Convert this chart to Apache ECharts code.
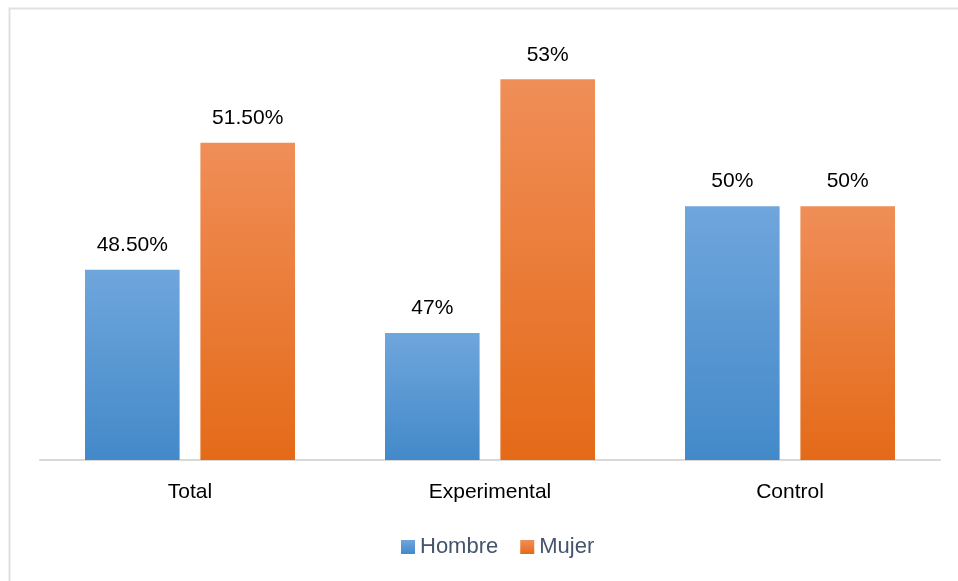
<!DOCTYPE html>
<html>
<head>
<meta charset="utf-8">
<script src="https://cdn.jsdelivr.net/npm/echarts@6/dist/echarts.min.js"></script>
<style>html,body{margin:0;padding:0;background:#fff;}#c{width:958px;height:581px;}</style>
</head>
<body>
<div id="c"></div>
<script>
var categories = ['Total', 'Experimental', 'Control'];
var seriesNames = ['Hombre', 'Mujer'];
var hombre = [48.5, 47, 50];
var mujer = [51.5, 53, 50];
var hombreLabels = ['48.50%', '47%', '50%'];
var mujerLabels = ['51.50%', '53%', '50%'];

var chart = echarts.init(document.getElementById('c'), null, {renderer: 'canvas'});
var font = '"Liberation Sans", Arial, sans-serif';
function grad(top, bottom) {
  return new echarts.graphic.LinearGradient(0, 0, 0, 1, [
    {offset: 0, color: top}, {offset: 1, color: bottom}
  ]);
}
function mkLabel(labels) {
  return {
    show: true, position: 'top', distance: 14,
    fontFamily: font, fontSize: 21, color: '#000',
    formatter: function (p) { return labels[p.dataIndex]; }
  };
}
chart.setOption({
  animation: false,
  backgroundColor: '#fff',
  graphic: [{
    type: 'polyline', silent: true,
    shape: {points: [[9.5, 581], [9.5, 8.5], [958, 8.5]]},
    style: {stroke: '#dde1e6', lineWidth: 2, fill: null}
  }],
  grid: {left: 40, right: 18, top: 37, bottom: 121},
  legend: {
    data: seriesNames, bottom: 18, left: 396,
    itemWidth: 14, itemHeight: 14, itemGap: 22,
    icon: 'rect',
    textStyle: {fontFamily: font, fontSize: 22, color: '#44546a'}
  },
  xAxis: {
    type: 'category', data: categories,
    axisLine: {lineStyle: {color: '#d9d9d9', width: 2}},
    axisTick: {show: false},
    axisLabel: {fontFamily: font, fontSize: 21, color: '#000', margin: 22}
  },
  yAxis: {
    type: 'value', min: 44, max: 54, interval: 2,
    show: false, splitLine: {show: false}
  },
  series: [
    {name: 'Hombre', type: 'bar', data: hombre, barCategoryGap: '30%', barGap: '22%',
     itemStyle: {color: grad('#6fa6dc', '#4389c9')}, label: mkLabel(hombreLabels)},
    {name: 'Mujer', type: 'bar', data: mujer,
     itemStyle: {color: grad('#f08e58', '#e46a18')}, label: mkLabel(mujerLabels)}
  ]
});
</script>
</body>
</html>
